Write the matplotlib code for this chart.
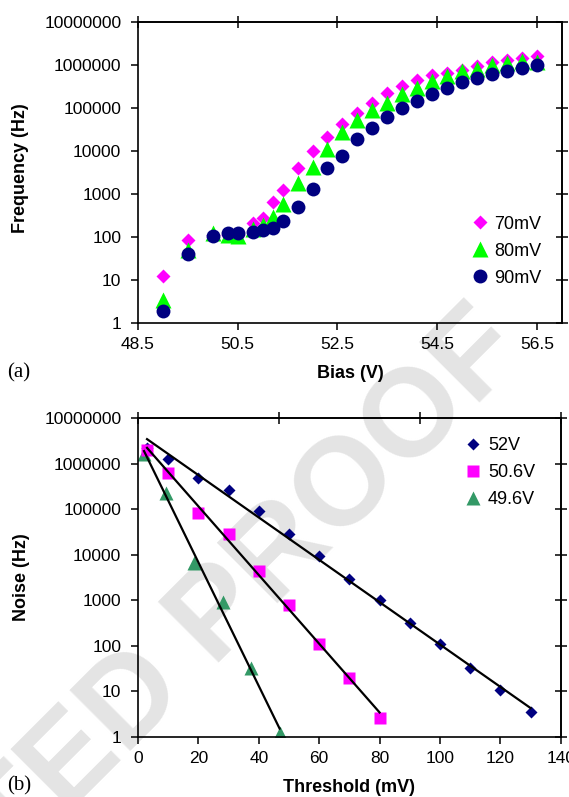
import numpy as np
import matplotlib
matplotlib.use("Agg")
from matplotlib import pyplot as plt

plt.rcParams['font.family'] = ['Liberation Sans', 'DejaVu Sans']

# === DATA: (a) dark count frequency vs bias ===
bias = [49.0, 49.5, 50.0, 50.3, 50.5, 50.8, 51.0, 51.2, 51.4, 51.7, 52.0, 52.3, 52.6, 52.9,
        53.2, 53.5, 53.8, 54.1, 54.4, 54.7, 55.0, 55.3, 55.6, 55.9, 56.2, 56.5]
freq_70mv = [12.5, 86, 110, 110, 112, 209, 273, 665, 1240, 3950, 9960, 21400, 42200, 77200,
             132000, 229000, 321000, 443000, 578000, 655000, 782000, 951000, 1160000,
             1290000, 1460000, 1600000]
freq_80mv = [3.5, 50, 122, 112, 107, 152, 191, 288, 577, 1770, 4310, 11100, 27000, 54000,
             92300, 132000, 217000, 294000, 427000, 550000, 727000, 826000, 985000,
             1130000, 1240000, 1180000]
freq_90mv = [1.87, 40, 106, 122, 126, 134, 146, 160, 237, 509, 1285, 3950, 7770, 18600,
             34000, 62400, 101000, 147000, 217000, 299000, 405000, 501000, 610000,
             728000, 855000, 1020000]

# === DATA: (b) noise vs threshold ===
thr_52v = [3, 10, 20, 30, 40, 50, 60, 70, 80, 90, 100, 110, 120, 130]
noise_52v = [2200000, 1260000, 486000, 265000, 88900, 28800, 9200, 2980, 1000, 319, 109,
             31.9, 10.7, 3.59]
thr_506v = [3, 10, 20, 30, 40, 50, 60, 70, 80]
noise_506v = [2000000, 614000, 83000, 28800, 4390, 777, 109, 19.9, 2.65]
thr_496v = [2, 9.4, 18.7, 28.1, 37.4, 46.9]
noise_496v = [1630000, 228000, 6680, 919, 31.9, 1.2]

decades = [1, 10, 100, 1000, 10000, 100000, 1000000, 10000000]
decade_labels = [str(d) for d in decades]


def style_axes(ax, xticks, top_ticks):
    ax.set_yscale('log')
    ax.set_ylim(1, 1e7)
    ax.set_yticks(decades)
    ax.set_yticklabels(decade_labels)
    ax.minorticks_off()
    ax.set_xticks(xticks)
    ax.tick_params(axis='both', direction='out', length=5, width=1.1, labelsize=12.5,
                   color='black')
    ax.tick_params(axis='x', pad=5)
    ax.tick_params(axis='y', pad=7)
    for s in ax.spines.values():
        s.set_linewidth(1.2)
    ax.patch.set_alpha(0)

    # crossing ticks on top and right, as in the spreadsheet original
    top = ax.secondary_xaxis('top')
    top.set_xticks(top_ticks)
    top.set_xticklabels([])
    top.tick_params(direction='inout', length=9, width=1.1)
    top.spines['top'].set_linewidth(1.2)
    right = ax.secondary_yaxis('right')
    right.set_yticks(decades)
    right.set_yticklabels([])
    right.tick_params(direction='inout', length=9, width=1.1)
    right.tick_params(which='minor', length=0)
    right.spines['right'].set_linewidth(1.2)


def fit_line(ax, x, y):
    x = np.asarray(x, dtype=float)
    coef = np.polyfit(x, np.log10(y), 1)
    xs = np.array([x.min(), x.max()])
    ax.plot(xs, 10 ** np.polyval(coef, xs), color='black', lw=1.6, zorder=5)


fig = plt.figure(figsize=(5.69, 7.97), dpi=100)

# watermark behind the transparent axes
fig.text(0.928, 0.556, 'UNCORRECTED PROOF', rotation=45, rotation_mode='anchor',
         ha='right', va='baseline', fontsize=90, fontweight='bold', color='#e4e4e4',
         zorder=-5)

# === (a) ===
ax1 = fig.add_axes([0.2425, 0.5947, 0.745, 0.3777])
ax1.plot(bias, freq_70mv, 'D', color='#ff00ff', ms=7, mec='none', label='70mV')
ax1.plot(bias, freq_80mv, '^', color='#00ff00', ms=11, mec='none', label='80mV')
ax1.plot(bias, freq_90mv, 'o', color='#000080', ms=10, mec='none', label='90mV')
ax1.set_xlim(48.5, 57.0)
a_ticks = [48.5, 50.5, 52.5, 54.5, 56.5]
style_axes(ax1, a_ticks, a_ticks)
ax1.set_xticklabels([f'{t:.1f}' for t in a_ticks])
ax1.set_xlabel('Bias (V)', fontsize=13, fontweight='bold')
ax1.set_ylabel('Frequency (Hz)', fontsize=13, fontweight='bold')
ax1.xaxis.set_label_coords(0.5, -0.168)
ax1.xaxis.label.set_va('center')
ax1.yaxis.set_label_coords(-0.276, 0.515)
ax1.yaxis.label.set_va('center')
ax1.legend(loc='upper left', bbox_to_anchor=(0.785, 0.357), frameon=False, fontsize=13,
           handlelength=1.0, handletextpad=0.3, labelspacing=0.56, borderpad=0,
           borderaxespad=0)
fig.text(0.012, 1 - 373 / 797, '(a)', family='Liberation Serif', fontsize=15,
         va='center', ha='left')

# === (b) ===
ax2 = fig.add_axes([0.2425, 0.0753, 0.743, 0.4003])
ax2.plot(thr_496v, noise_496v, '^', color='#339966', ms=10, mec='none', label='49.6V')
ax2.plot(thr_52v, noise_52v, 'D', color='#000080', ms=6, mec='none', label='52V')
ax2.plot(thr_506v, noise_506v, 's', color='#ff00ff', ms=9, mec='none', label='50.6V')
fit_line(ax2, thr_52v, noise_52v)
fit_line(ax2, thr_506v, noise_506v)
fit_line(ax2, thr_496v, noise_496v)
ax2.set_xlim(0, 140)
style_axes(ax2, list(range(0, 141, 20)), [0, 140 / 3, 280 / 3, 140])
ax2.set_xlabel('Threshold (mV)', fontsize=13, fontweight='bold')
ax2.set_ylabel('Noise (Hz)', fontsize=13, fontweight='bold')
ax2.xaxis.set_label_coords(0.5, -0.157)
ax2.xaxis.label.set_va('center')
ax2.yaxis.set_label_coords(-0.276, 0.5)
ax2.yaxis.label.set_va('center')
handles, labels = ax2.get_legend_handles_labels()
order = [1, 2, 0]
ax2.legend([handles[i] for i in order], [labels[i] for i in order], loc='upper left',
           bbox_to_anchor=(0.77, 0.94), frameon=False, fontsize=13, handlelength=1.0,
           handletextpad=0.35, labelspacing=0.56, borderpad=0, borderaxespad=0)
fig.text(0.012, 1 - 786 / 797, '(b)', family='Liberation Serif', fontsize=15,
         va='center', ha='left')

fig.savefig('out.png', dpi=100)
